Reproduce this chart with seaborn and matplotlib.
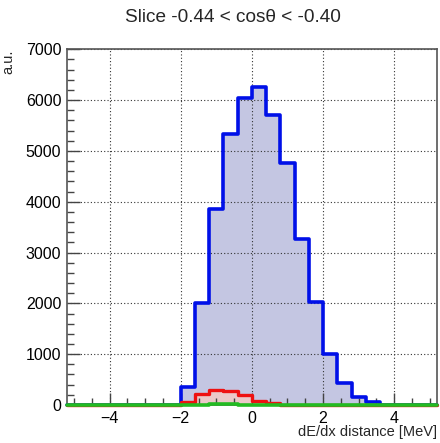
import numpy as np
import pandas as pd
import matplotlib
matplotlib.use("Agg")
import matplotlib.pyplot as plt
import seaborn as sns
from matplotlib.ticker import MultipleLocator

# data: bin lower edges (width 0.4) and counts
bin_left = [-2.0, -1.6, -1.2, -0.8, -0.4, 0.0, 0.4, 0.8, 1.2, 1.6, 2.0, 2.4, 2.8, 3.2]
blue_vals = [360, 2000, 3850, 5340, 6050, 6260, 5710, 4770, 3260, 2020, 1010, 440, 165, 50]
red_vals = [60, 220, 290, 270, 190, 75, 40, 0, 0, 0, 0, 0, 0, 0]
green_vals = [0, 5, 12, 15, 8, 3, 0, 0, 0, 0, 0, 0, 0, 0]
title = "Slice -0.44 < cosθ < -0.40"
xlabel = "dE/dx distance [MeV]"
ylabel = "a.u."

sns.set_style("white")
plt.rcParams['font.family'] = ['Liberation Sans', 'DejaVu Sans']

width = 0.4
edges = [float(v) for v in np.round(np.arange(-5.2, 5.2 + 1e-9, width), 4)]
centers = np.array(bin_left) + width / 2
df = pd.DataFrame({"x": centers, "blue": blue_vals, "red": red_vals, "green": green_vals})

fig = plt.figure(figsize=(4.4, 4.43), dpi=100)
ax = fig.add_axes([0.152, 0.0858, 0.841, 0.803])

# fills (below grid)
sns.histplot(data=df, x="x", weights="blue", bins=edges, element="step", fill=True,
             ax=ax, linewidth=0, alpha=1.0, facecolor="#c4c6e2", zorder=1)
sns.histplot(data=df, x="x", weights="red", bins=edges, element="step", fill=True,
             ax=ax, linewidth=0, alpha=1.0, facecolor="#ebc8c8", zorder=1.2)
# outlines (above grid)
sns.histplot(data=df, x="x", weights="blue", bins=edges, element="step", fill=False,
             ax=ax, linewidth=2.6, color="#0010e8", zorder=4, clip_on=False)
sns.histplot(data=df, x="x", weights="red", bins=edges, element="step", fill=False,
             ax=ax, linewidth=2.4, color="#ee1111", zorder=4.2, clip_on=False)
sns.histplot(data=df, x="x", weights="green", bins=edges, element="step", fill=False,
             ax=ax, linewidth=2.6, color="#22bb22", zorder=4.4, clip_on=False)

ax.set_xlim(-5.2, 5.2)
ax.set_ylim(0, 7000)
ax.xaxis.set_major_locator(MultipleLocator(2))
ax.xaxis.set_minor_locator(MultipleLocator(0.5))
ax.yaxis.set_major_locator(MultipleLocator(1000))
ax.yaxis.set_minor_locator(MultipleLocator(200))
ax.tick_params(which="major", direction="in", length=9, width=1, labelsize=11.5,
               bottom=True, left=True, top=False, right=False,
               colors="#444444", labelcolor="black", pad=4)
ax.tick_params(which="minor", direction="in", length=5, width=1, colors="#444444",
               bottom=True, left=True, top=False, right=False)
ax.set_xticks([-4, -2, 0, 2, 4])
ax.set_xticklabels(["\u22124", "\u22122", "0", "2", "4"])
ax.grid(True, which="major", linestyle=(0, (1, 2)), color="#333333", linewidth=0.8)
ax.xaxis.set_zorder(3)
ax.yaxis.set_zorder(3)
for s in ax.spines.values():
    s.set_color("#555555")
    s.set_linewidth(1.2)
    s.set_zorder(3.5)

ax.set_xlabel(xlabel, fontsize=10.5, loc="right")
ax.set_ylabel(ylabel, fontsize=10.5, loc="top")
ax.xaxis.set_label_coords(1.0, -0.055)
ax.yaxis.set_label_coords(-0.14, 1.0)
fig.text(0.53, 0.96, title, ha="center", va="center", fontsize=13.7)

fig.savefig("out.png", dpi=100)
